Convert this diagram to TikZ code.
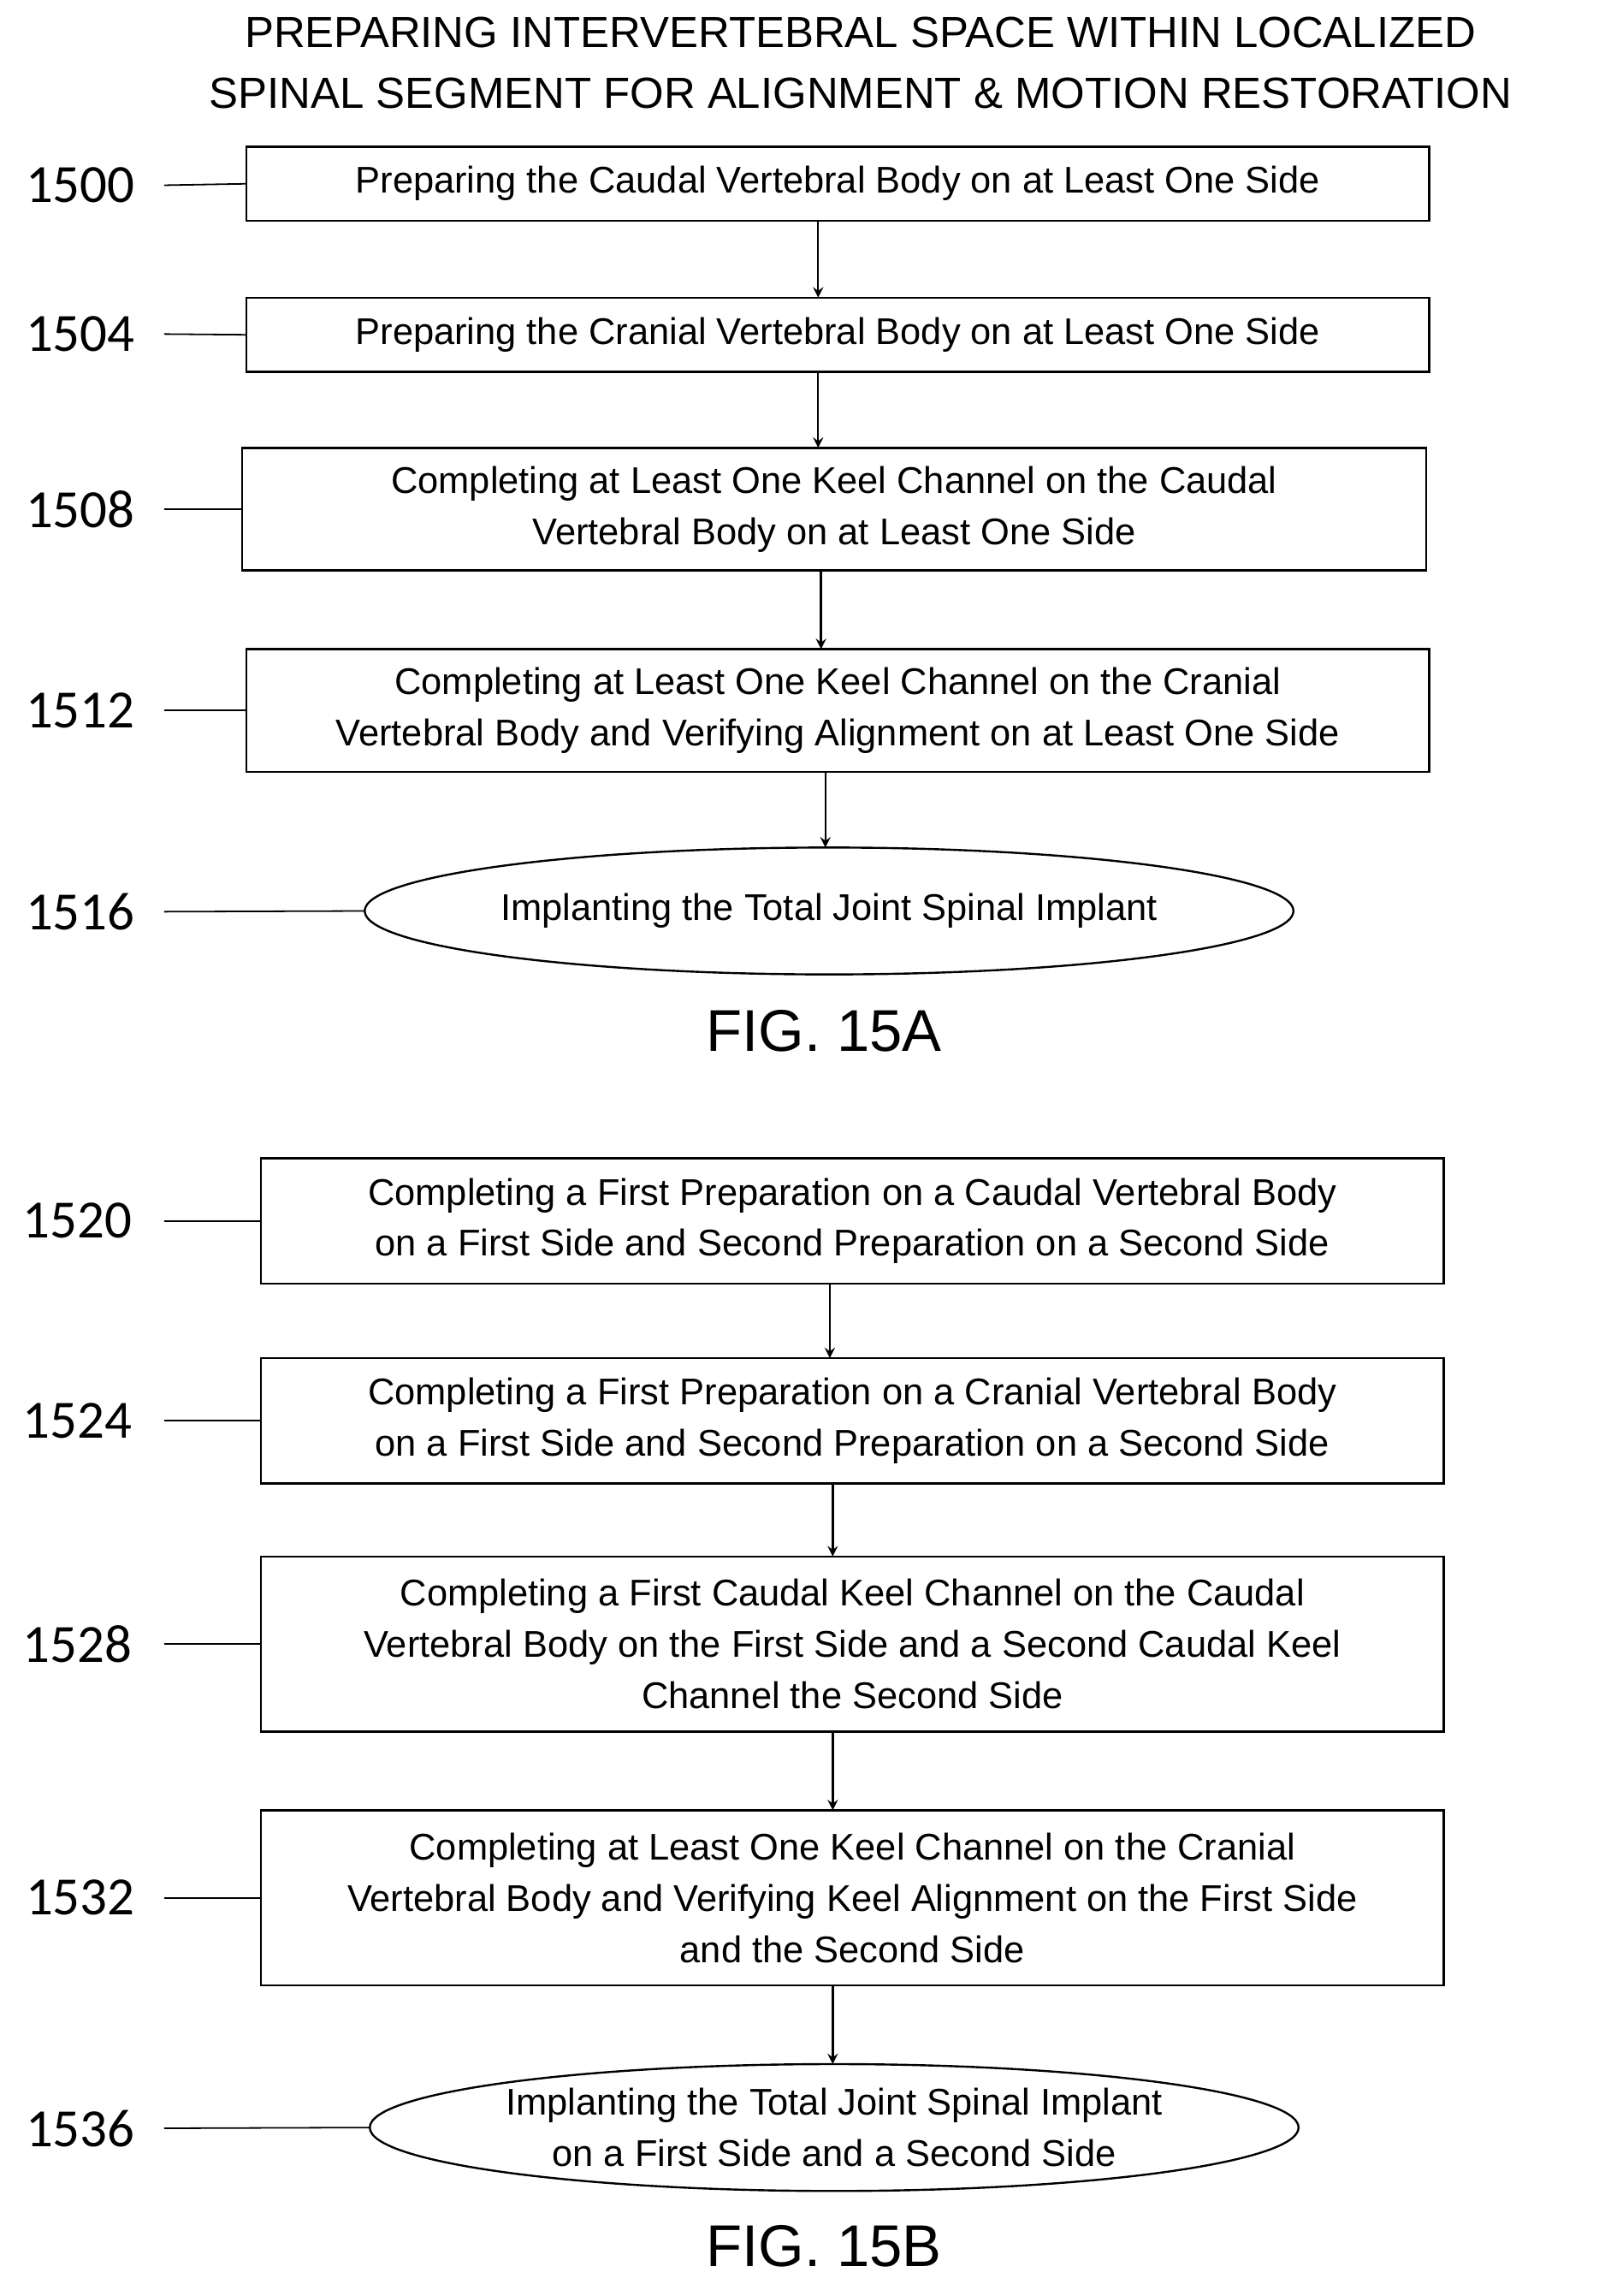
\documentclass[tikz,border=0pt]{standalone}
\usepackage{fontspec}
\setmainfont{Liberation Sans}
\newfontfamily\numfont{Carlito}
\usetikzlibrary{arrows, positioning, shapes, calc}
\tikzstyle{stepbox} = [rectangle, draw, line width=0.8pt, align=center, font=\fontsize{14.5}{20}\selectfont, inner sep=0pt]
\tikzstyle{lastbox} = [ellipse, draw, line width=0.8pt, align=center, font=\fontsize{14.5}{20}\selectfont, inner sep=0pt]
\tikzstyle{num} = [font=\numfont\fontsize{21}{24}\selectfont]
\tikzstyle{arrow} = [->, >=stealth, line width=0.8pt]
\tikzstyle{line} = [-, line width=0.6pt]
\begin{document}
\begin{tikzpicture}[x=0.02cm, y=-0.02cm]
        \useasboundingbox (0,0) rectangle (1100,1574);
        % Title
        \node[font=\fontsize{17}{23.5}\selectfont, align=center] (title) at (590,43) {PREPARING INTERVERTEBRAL SPACE WITHIN LOCALIZED\\SPINAL SEGMENT FOR ALIGNMENT \& MOTION RESTORATION};

        % Fig 15A steps
        \node[stepbox, minimum width=16.22cm, minimum height=1.02cm] (a1) at (574.5,126) {Preparing the Caudal Vertebral Body on at Least One Side};
        \node[stepbox, minimum width=16.22cm, minimum height=1.02cm] (a2) at (574.5,229.5) {Preparing the Cranial Vertebral Body on at Least One Side};
        \node[stepbox, minimum width=16.24cm, minimum height=1.68cm] (a3) at (572,349) {Completing at Least One Keel Channel on the Caudal\\Vertebral Body on at Least One Side};
        \node[stepbox, minimum width=16.22cm, minimum height=1.68cm] (a4) at (574.5,487) {Completing at Least One Keel Channel on the Cranial\\Vertebral Body and Verifying Alignment on at Least One Side};
        \node[lastbox, minimum width=12.7cm, minimum height=1.74cm] (a5) at (568.5,624.5) {Implanting the Total Joint Spinal Implant};
        \node[font=\fontsize{23}{26}\selectfont] (figa) at (565,707) {FIG. 15A};

        % Fig 15B steps
        \node[stepbox, minimum width=16.22cm, minimum height=1.72cm] (b1) at (584.5,837) {Completing a First Preparation on a Caudal Vertebral Body\\on a First Side and Second Preparation on a Second Side};
        \node[stepbox, minimum width=16.22cm, minimum height=1.72cm] (b2) at (584.5,974) {Completing a First Preparation on a Cranial Vertebral Body\\on a First Side and Second Preparation on a Second Side};
        \node[stepbox, minimum width=16.22cm, minimum height=2.4cm] (b3) at (584.5,1127) {Completing a First Caudal Keel Channel on the Caudal\\Vertebral Body on the First Side and a Second Caudal Keel\\Channel the Second Side};
        \node[stepbox, minimum width=16.22cm, minimum height=2.4cm] (b4) at (584.5,1301) {Completing at Least One Keel Channel on the Cranial\\Vertebral Body and Verifying Keel Alignment on the First Side\\and the Second Side};
        \node[lastbox, minimum width=12.68cm, minimum height=1.74cm] (b5) at (572,1458.5) {Implanting the Total Joint Spinal Implant\\on a First Side and a Second Side};
        \node[font=\fontsize{23}{26}\selectfont] (figb) at (565,1540) {FIG. 15B};

        % Reference numbers
        \node[num] (n1500) at (55,127) {1500};
        \node[num] (n1504) at (55,229) {1504};
        \node[num] (n1508) at (55,349) {1508};
        \node[num] (n1512) at (55,487) {1512};
        \node[num] (n1516) at (55,625) {1516};
        \node[num] (n1520) at (53,837) {1520};
        \node[num] (n1524) at (53,974) {1524};
        \node[num] (n1528) at (53,1127) {1528};
        \node[num] (n1532) at (55,1301) {1532};
        \node[num] (n1536) at (55,1459) {1536};

        % Leader lines
        \draw[line] (n1500.east) ++(14,0) -- (a1.west);
        \draw[line] (n1504.east) ++(14,0) -- (a2.west);
        \draw[line] (n1508.east) ++(14,0) -- (a3.west);
        \draw[line] (n1512.east) ++(14,0) -- (a4.west);
        \draw[line] (n1516.east) ++(14,0) -- (a5.west);
        \draw[line] (n1520.east) ++(16,0) -- (b1.west);
        \draw[line] (n1524.east) ++(16,0) -- (b2.west);
        \draw[line] (n1528.east) ++(16,0) -- (b3.west);
        \draw[line] (n1532.east) ++(14,0) -- (b4.west);
        \draw[line] (n1536.east) ++(14,0) -- (b5.west);

        % Flow arrows
        \draw[arrow] (561,152) -- (561,204);
        \draw[arrow] (561,255) -- (561,307);
        \draw[arrow] (563,391) -- (563,445);
        \draw[arrow] (566,529) -- (566,581);
        \draw[arrow] (569,880) -- (569,931);
        \draw[arrow] (571,1017) -- (571,1067);
        \draw[arrow] (571,1187) -- (571,1241);
        \draw[arrow] (571,1361) -- (571,1415);
\end{tikzpicture}
\end{document}
